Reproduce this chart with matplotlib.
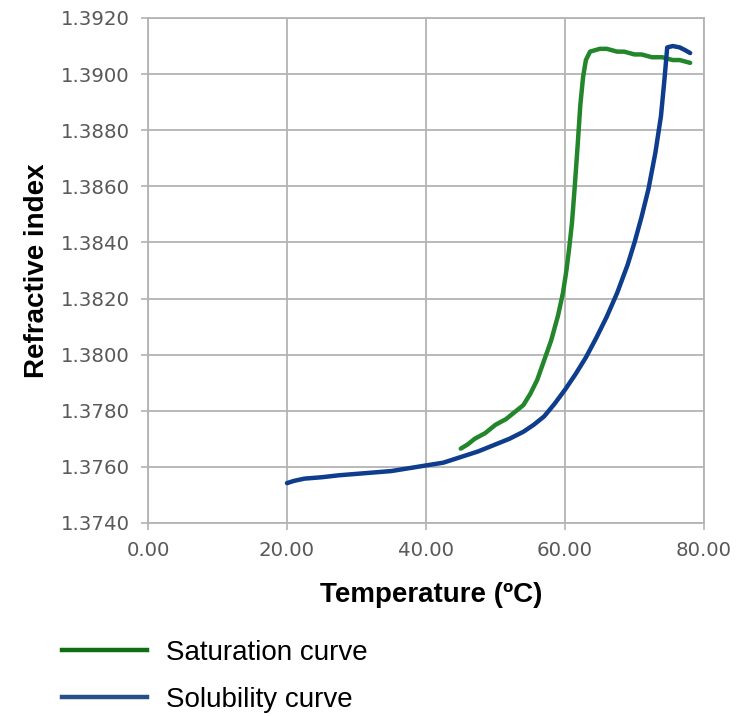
import matplotlib.pyplot as plt

# Saturation curve (green) — temperature (ºC) vs refractive index
sat_temp = [45.0, 46.0, 47.0, 48.5, 50.0, 51.5, 53.0, 54.0, 55.0, 56.0, 57.0, 58.0,
            59.0, 59.7, 60.2, 60.6, 61.0, 61.4, 61.8, 62.2, 62.6, 63.0, 63.6, 65.0,
            66.0, 67.5, 68.5, 70.0, 71.0, 72.5, 74.0, 75.5, 76.5, 78.0]
sat_ri = [1.37665, 1.3768, 1.3770, 1.3772, 1.3775, 1.3777, 1.3780, 1.3782, 1.3786, 1.3791,
          1.3798, 1.3805, 1.3814, 1.3822, 1.3830, 1.3838, 1.3847, 1.3860, 1.3874, 1.3889,
          1.3899, 1.3905, 1.3908, 1.3909, 1.3909, 1.3908, 1.3908, 1.3907, 1.3907, 1.3906,
          1.3906, 1.3905, 1.3905, 1.3904]

# Solubility curve (blue)
sol_temp = [20.0, 21.0, 22.5, 25.0, 27.5, 30.0, 32.5, 35.0, 37.5, 40.0, 42.5, 45.0,
            47.5, 50.0, 52.0, 54.0, 55.5, 57.0, 58.5, 60.0, 61.5, 63.0, 64.5, 66.0,
            67.5, 69.0, 70.0, 71.0, 72.0, 73.0, 73.8, 74.3, 74.7, 75.5, 76.5, 77.3, 78.0]
sol_ri = [1.37542, 1.37550, 1.37558, 1.37563, 1.37570, 1.37575, 1.37580, 1.37585, 1.37595,
          1.37605, 1.37615, 1.37635, 1.37655, 1.37680, 1.37700, 1.37725, 1.37750, 1.37780,
          1.37825, 1.37875, 1.37930, 1.37990, 1.38060, 1.38135, 1.38220, 1.38320, 1.38400,
          1.38490, 1.38590, 1.38720, 1.38850, 1.38980, 1.39095, 1.39100, 1.39095, 1.39085,
          1.39075]

x_ticks = [0, 20, 40, 60, 80]
y_ticks = [1.3740, 1.3760, 1.3780, 1.3800, 1.3820, 1.3840, 1.3860, 1.3880, 1.3900, 1.3920]

green = '#23862a'
blue = '#0d3d8c'
grid_grey = '#b3b3b3'

fig = plt.figure(figsize=(7.38, 7.16), dpi=100)
ax = fig.add_axes([0.2005, 0.2696, 0.7535, 0.7053])

ax.plot(sat_temp, sat_ri, color=green, lw=3.2, solid_capstyle='round', zorder=3)
ax.plot(sol_temp, sol_ri, color=blue, lw=3.2, solid_capstyle='round', zorder=4)

ax.set_xlim(0, 80)
ax.set_ylim(1.3740, 1.3920)
ax.set_xticks(x_ticks)
ax.set_xticklabels([f'{v:.2f}' for v in x_ticks])
ax.set_yticks(y_ticks)
ax.set_yticklabels([f'{v:.4f}' for v in y_ticks])
ax.tick_params(axis='both', colors='#595959', labelsize=14.2, length=5,
               width=1.2, color=grid_grey)
ax.tick_params(axis='x', pad=8)
ax.tick_params(axis='y', pad=8)
ax.grid(True, color=grid_grey, lw=1.3)
ax.set_axisbelow(True)
for sp in ax.spines.values():
    sp.set_color(grid_grey)
    sp.set_linewidth(1.3)

lab_font = dict(family='Liberation Sans', fontsize=20, fontweight='bold', color='black')
ax.set_xlabel('Temperature (ºC)', labelpad=16, **lab_font)
ax.set_ylabel('Refractive index', labelpad=8, **lab_font)
ax.xaxis.set_label_coords(0.509, -0.117)

h1, = ax.plot([], [], color='#0f6e12', lw=3.2)
h2, = ax.plot([], [], color='#264f8a', lw=3.2)
fig.legend([h1, h2], ['Saturation curve', 'Solubility curve'],
           loc='upper left', bbox_to_anchor=(0.058, 0.133), frameon=False,
           prop={'family': 'Liberation Sans', 'size': 20},
           handlelength=3.05, handletextpad=0.68, labelspacing=0.74,
           borderpad=0.2)

fig.savefig('out.png', dpi=100)
